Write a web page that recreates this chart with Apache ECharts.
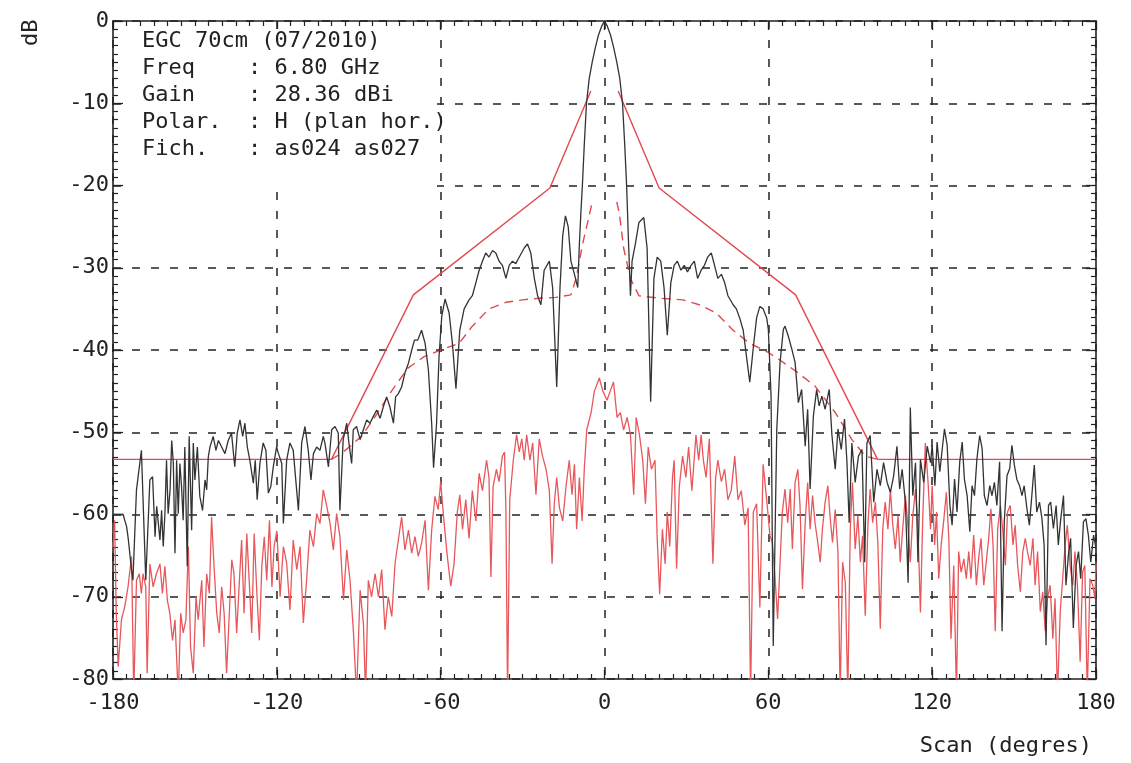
<!DOCTYPE html>
<html>
<head>
<meta charset="utf-8">
<script src="https://cdn.jsdelivr.net/npm/echarts@6/dist/echarts.min.js"></script>
<style>
html,body{margin:0;padding:0;background:#fff;}
#chart{width:1131px;height:763px;}
</style>
</head>
<body>
<div id="chart"></div>
<script>
// ---- data (angle in degrees, level in dB) ----
const xTicks = [-180, -120, -60, 0, 60, 120, 180];
const yTicks = [0, -10, -20, -30, -40, -50, -60, -70, -80];

const boxLines = [
  'EGC 70cm (07/2010)',
  'Freq    : 6.80 GHz',
  'Gain    : 28.36 dBi',
  'Polar.  : H (plan hor.)',
  'Fich.   : as024 as027'
];

// co-polar measured pattern (black)
const coPolar = [
[-180,-60],[-176.3,-60],[-175,-61.5],[-174.4,-63],[-173.3,-66.5],[-172.7,-68],[-171.4,-57],[-169.6,-52.2],[-168,-68],[-166.5,-55.8],[-165.5,-55.4],[-164.6,-62.7],[-164,-59],[-162.8,-63.1],[-162.2,-59.5],[-161.6,-63.9],[-161,-60],[-160.4,-53.4],[-159.8,-59.9],[-159.1,-57],[-158.5,-51],[-157.9,-53.8],[-157.3,-64.7],[-156.7,-53.4],[-156.1,-59.9],[-155.5,-53.8],[-154.9,-56.6],[-154.3,-60.7],[-153.7,-51.8],[-152.8,-66.3],[-152.1,-50.5],[-151.2,-61.9],[-150.6,-51.3],[-150,-55.8],[-149.1,-51.8],[-148.2,-57.8],[-147.2,-59.5],[-146.3,-55.8],[-145.7,-57],[-145.1,-53],[-144.5,-51.8],[-143.3,-50.5],[-142.3,-52.2],[-141.4,-51],[-140.2,-51.8],[-139,-52.6],[-137.8,-51],[-136.6,-50.1],[-135.4,-54.2],[-134.5,-50.1],[-133.5,-48.5],[-132.5,-50.5],[-131.7,-48.9],[-130.8,-51.8],[-129.9,-53.4],[-128.6,-56.2],[-127.9,-53.4],[-127.2,-58.2],[-126.2,-53.8],[-125,-51.3],[-124,-52.2],[-123.1,-57.4],[-122.2,-56.6],[-121.3,-54.2],[-120.1,-51.8],
[-119.4,-52.6],[-118.2,-53.8],[-117.6,-61.1],[-116.4,-53.4],[-115.2,-51.3],[-114,-52.2],[-112.1,-59.5],[-110.9,-51.3],[-109.7,-49.3],[-108.5,-52.2],[-107.5,-55.8],[-106.6,-52.6],[-105.4,-51.8],[-104.2,-52.2],[-103,-50.5],[-102.4,-51.3],[-101.1,-54.2],[-99.9,-49.7],[-98.7,-49.3],[-97.5,-50.1],[-96.9,-59.5],[-95.7,-50.9],[-94.4,-48.9],[-93.6,-51.3],[-92.6,-53.8],[-92,-49.7],[-90.8,-49.3],[-89.5,-50.9],[-88.3,-49.7],[-87.1,-48.5],[-85.9,-48.9],[-84.7,-48.1],[-83.4,-47.3],[-82.2,-48.3],[-81,-46.9],[-79.8,-45.7],[-78.6,-46.9],[-77.3,-48.9],[-76.5,-45.7],[-75.5,-45.3],[-74.3,-44.5],[-73.1,-42.8],[-71.8,-41.6],[-70.6,-40],[-69.6,-38.8],[-68.4,-38.8],[-67,-37.6],[-65.7,-39.2],[-64.5,-42.4],[-63.3,-48.9],[-62.6,-54.3],[-61.5,-48.9],[-60.6,-40.8],[-59.6,-35.9],[-58.4,-33.8],
[-56.9,-35.5],[-55.7,-39.2],[-54.4,-44.7],[-53,-37.6],[-51.4,-35],[-49.6,-33.9],[-48.4,-33.4],[-47.1,-31.8],[-45.9,-30.3],[-44.7,-29.2],[-43.5,-28.2],[-42.3,-28.7],[-41,-27.9],[-39.8,-28.2],[-38.6,-29.2],[-37.4,-29.7],[-36.1,-31.3],[-34.9,-29.7],[-33.7,-29.2],[-32.5,-29.5],[-31.2,-28.7],[-29.4,-27.6],[-28.2,-27.1],[-27,-28.2],[-25.7,-31.3],[-24.5,-33.4],[-23.3,-34.5],[-22.1,-30.3],[-20.2,-29.2],[-19,-32.4],[-17.5,-44.5],[-16.3,-32.4],[-15.3,-26.1],[-14.3,-23.7],[-13.3,-25],[-12.3,-29.2],[-11,-30.8],[-9.8,-32.4],
[-9.2,-27.1],[-8.6,-23],[-8.1,-20],[-7.4,-15],[-6.6,-10],[-5.6,-7],[-4.5,-5],[-3.4,-3.3],[-2.2,-1.7],[-1,-0.6],[0,0],[1,-0.6],[2.2,-1.7],[3.4,-3.3],[4.5,-5],[5.6,-7],[6.6,-10],[7.4,-15],[8.1,-20],[8.7,-26],
[9.5,-33.4],[10.1,-29.2],[11.3,-27.1],[12.6,-24.5],[14.4,-23.9],[15.6,-27.6],[16.9,-46.3],[18.1,-31.3],[19.3,-28.7],[20.6,-29.2],[21.8,-32.4],[23,-38.2],[24.3,-31.8],[25.5,-29.7],[26.7,-29.2],[28,-30.3],[29.2,-29.7],[30.4,-30.5],[31.7,-29.7],[32.9,-29.2],[34.1,-31.3],[35.4,-30.3],[36.6,-29.7],[37.8,-28.7],[39.1,-28.2],[40.3,-29.7],[41.5,-31.3],[42.8,-30.8],[44,-31.8],[45.2,-33.4],[47.1,-34.5],[48.3,-35],[49.5,-36.1],[50.8,-37.6],[52,-40.8],[53.2,-43.9],[54.5,-39.7],[55.7,-36.1],[56.9,-34.7],[58.1,-35],[59.4,-36.1],
[60,-37.5],[61,-45.6],[61.8,-76],[63.1,-49.6],[64.3,-41.5],[65.5,-37.5],[66.1,-37.1],[67.3,-38.3],[68.6,-39.9],[69.8,-41.5],[71,-46.4],[72.2,-44.8],[73.5,-51.7],[74.4,-47.2],[75.3,-56.9],[76.5,-48],[77.7,-44.8],[78.6,-46.8],[79.6,-45.6],[80.8,-47.2],[82.3,-44.8],[83.3,-50.4],[84.5,-54.5],[85.5,-49.6],[86.7,-52.1],[87.9,-48.4],[88.8,-53.7],[89.6,-61],[90.6,-51.3],[91.8,-56.1],[93,-52.9],[94.3,-52.1],[95.3,-65.8],[96.1,-51.3],[97.3,-50.4],[98.6,-58.5],[99.8,-54.5],[101,-56.5],[102.2,-53.7],[103.5,-56.1],[104.7,-57.3],[105.9,-55.3],[107.1,-51.7],[108.1,-56.9],[109,-54.5],[110.2,-58.5],[111.2,-68.3],[112,-47],[112.9,-57.7],[113.9,-53.7],[114.8,-65.8],[115.7,-53.3],[116.9,-56.1],[118.2,-51.7],[119.4,-53.7],
[120,-51.6],[121,-56.5],[121.8,-51.2],[122.8,-54.8],[123.7,-52],[124.5,-49.6],[125.5,-51.6],[126.5,-58.9],[127.3,-61.3],[128.2,-55.7],[129.1,-59.7],[130.1,-53.6],[131,-51.2],[131.8,-55.7],[132.8,-57.7],[133.8,-62.1],[134.6,-56.5],[135.5,-57.7],[136.4,-53.2],[137.4,-50.4],[138.3,-52],[139.1,-57.7],[140.1,-58.9],[141.1,-56.5],[141.9,-57.7],[142.8,-56.1],[143.7,-58.9],[144.7,-53.6],[145.6,-74.2],[146.4,-60.9],[147.4,-55.3],[148.4,-54.4],[149.2,-51.6],[150.1,-54],[151,-55.7],[152,-56.5],[152.9,-57.7],[153.7,-56.5],[154.7,-59.3],[155.6,-61.3],[156.5,-57.7],[157.4,-54],[158.3,-59.7],[159.3,-58.5],[160.2,-60.5],[161,-63.7],[161.7,-75.9],[162.6,-58.9],[163.4,-58.5],[164.4,-61.7],[165.4,-58.9],[166.2,-63.7],[167.1,-60.5],[168.1,-57.7],[169,-68.6],[169.9,-64.9],[170.7,-62.9],[171.7,-73.8],[172.7,-66.2],[173.6,-64.5],[174.4,-67.8],[175.4,-60.9],[176.3,-60.5],[177.2,-62.5],[178.1,-65.8],[179.1,-62.5],[180,-64.1]
];

// cross-polar measured pattern (light red)
const crossPolar = [
[-180,-64],[-179.4,-60.7],[-178.8,-72],[-178.1,-78.5],[-176.9,-72.8],[-175.7,-71.2],[-174.5,-68.8],[-173.2,-65.1],[-172.4,-82],[-171.4,-68],[-170.4,-67.2],[-169.6,-69.6],[-169,-67.2],[-168,-68.8],[-167.5,-79.3],[-166.5,-66],[-165.3,-68.8],[-164.1,-67.2],[-162.8,-66],[-161.9,-69.6],[-161,-66.3],[-160.1,-70.4],[-159.2,-72],[-158.2,-75.3],[-157.3,-72.8],[-156.1,-82],[-155.2,-72],[-154.3,-74.4],[-153.3,-72.8],[-152.4,-63.9],[-151.6,-76.1],[-150.6,-79.3],[-149.6,-70],[-148.8,-72.8],[-147.5,-68],[-146.7,-76.1],[-145.7,-67.2],[-144.7,-69.6],[-143.9,-60.3],[-143,-66.3],[-142,-72],[-141.1,-74.4],[-140.2,-68.8],[-139.3,-72],[-138.4,-79.3],[-137.4,-72],[-136.5,-65.5],[-135.7,-67.2],[-134.7,-74.4],[-133.7,-68],[-132.9,-63.1],[-132,-72],[-131,-62.3],[-130,-68.8],[-129.2,-74.4],[-128.3,-62.3],[-127.3,-69.6],[-126.4,-75.3],[-125.5,-66.3],[-124.6,-62.7],[-123.7,-68],[-122.7,-60.7],[-121.8,-68.8],[-121,-63.9],[-120,-62],
[-118.8,-70],[-117.6,-63.9],[-116.4,-65.9],[-115.2,-71.6],[-114,-63.1],[-112.7,-66.7],[-111.5,-63.9],[-110.3,-73.2],[-109.1,-68],[-107.9,-61.9],[-106.6,-63.9],[-105.4,-59.9],[-104.2,-61.1],[-103,-57],[-101.7,-59],[-100.5,-61.1],[-99.3,-64.3],[-98.1,-59.9],[-96.9,-62.7],[-95.6,-70.4],[-94.4,-64.3],[-93.2,-68],[-92,-74],[-90.8,-82],[-89.5,-69.2],[-88.3,-73.2],[-87.5,-82],[-86.5,-68],[-85.3,-70],[-84,-67.2],[-82.8,-70],[-81.6,-66.7],[-80.4,-74],[-79.2,-70],[-77.9,-72.4],[-76.7,-65.9],[-75.5,-63.1],[-74.3,-60.3],[-73.1,-64.3],[-71.8,-61.9],[-70.6,-64.7],[-69.4,-62.7],[-68.2,-65.1],[-67,-63.5],[-65.7,-60.7],[-64.5,-69.2],[-63.3,-61.9],[-62.1,-57.8],[-60.9,-59.4],
[-60,-56],[-58.8,-60.8],[-57.6,-65],[-56.3,-68.7],[-55.1,-66],[-53.9,-59.7],[-53,-57.6],[-52,-61.8],[-50.8,-58.2],[-49.6,-62.9],[-48.4,-57.1],[-47.1,-60.8],[-45.9,-55],[-44.7,-57.1],[-43.2,-53.4],[-42.3,-55.5],[-41.6,-67.6],[-40.8,-56.6],[-39.6,-54.5],[-38.6,-56],[-37.4,-52.9],[-36.6,-52.4],[-36.1,-59.7],[-35.5,-82],[-34.7,-58.2],[-33.4,-53.4],[-32.2,-50.3],[-31.2,-52.4],[-30.3,-50.8],[-29.4,-53.4],[-28.5,-50.3],[-27.3,-53.4],[-26.3,-51.3],[-25.1,-57.6],[-23.9,-50.8],[-22.7,-52.9],[-21.4,-54.5],[-20.2,-57.1],[-19.2,-66],[-18.4,-58.7],[-17.5,-55.5],[-16.5,-59.2],[-15.3,-60.8],[-14.1,-56.6],[-12.9,-53.4],[-11.9,-57.6],[-11,-53.9],[-10.2,-61.8],[-9.2,-55.5],[-8.2,-60.8],[-7.4,-54.5],[-6.5,-49.7],[-4.9,-47.6],[-3.7,-45],[-1.9,-43.4],[-0.6,-45],
[0.9,-46.1],[2.1,-45],[3.3,-43.9],[4.6,-48.2],[5.8,-47.6],[7,-49.7],[8.3,-48.2],[9.5,-50.3],[10.7,-57.6],[11.6,-48.2],[12.8,-50.3],[14,-53.4],[15,-58.7],[16,-51.8],[17.2,-54.5],[18.5,-53.4],[19.3,-62.9],[20.2,-69.7],[21.2,-61.8],[22.2,-66],[23,-59.7],[23.9,-63.9],[24.9,-55.5],[25.5,-53.4],[26.4,-66.6],[27.4,-56.6],[28.6,-52.9],[29.8,-55.5],[30.8,-51.8],[32,-57.1],[33.5,-50.3],[34.5,-53.4],[35.4,-50.3],[36.2,-53.4],[37.2,-55.5],[38.4,-50.8],[39.7,-66],[40.7,-55.5],[41.5,-53.4],[42.8,-56],[44,-54.5],[45.2,-58.2],[46.4,-57.1],[47.7,-52.9],[48.9,-58.2],[50.1,-57.1],[51.4,-61.3],[52.6,-59.2],[53.5,-82],[54.5,-59.7],[55.7,-58.7],[56.9,-71.3],[58.1,-53.9],[59.4,-58.2],
[60.6,-62.6],[61.5,-63.4],[62.4,-67.4],[63.4,-72.7],[64.3,-65.8],[65.1,-59.8],[66.1,-56.9],[67.1,-61],[68,-56.9],[68.8,-64.2],[69.8,-56.1],[70.8,-54.5],[71.6,-58.9],[72.5,-69.1],[73.5,-61],[74.4,-56.1],[75.3,-61.8],[76.2,-57.7],[77.1,-61],[78.1,-63.4],[79,-65.8],[79.8,-61.8],[80.8,-58.5],[81.8,-56.5],[82.6,-60.2],[83.5,-63.4],[84.5,-59.4],[85.5,-64.6],[86.3,-82],[87.2,-65.8],[88.2,-68.3],[89.1,-82],[90,-61.8],[90.8,-56.1],[91.8,-64.2],[92.8,-60.2],[93.7,-65.8],[94.5,-62.6],[95.5,-72.3],[96.5,-61],[97.3,-56.9],[98.2,-61],[99.2,-58.5],[100.1,-63.4],[101,-73.9],[101.9,-61.8],[102.8,-58.5],[103.8,-61.8],[104.7,-56.9],[105.5,-61],[106.5,-64.2],[107.5,-60.2],[108.3,-65.8],[109.2,-61.8],[110.2,-57.7],[111.2,-61.8],[112,-65.8],[112.9,-60.2],[113.9,-56.9],[114.8,-61.8],[115.7,-71.9],[116.5,-61],[117.5,-51.3],[118.5,-56.1],[119.4,-61.8],
[120,-56.5],[120.9,-63.7],[121.6,-59.7],[122.4,-67.8],[123.3,-63.7],[124.3,-60.5],[125.2,-57.3],[126.1,-62.9],[126.9,-75.1],[127.9,-66.2],[128.9,-82],[129.7,-64.5],[130.6,-67],[131.6,-65.4],[132.5,-67.8],[133.4,-64.5],[134.2,-67.8],[135.2,-62.5],[136.2,-68.6],[137,-65.4],[137.9,-62.9],[138.9,-68.6],[139.8,-65.8],[140.7,-62.9],[141.5,-59.3],[142.3,-63.7],[143.1,-74.2],[144,-61.7],[145,-58.9],[145.9,-62.1],[146.8,-66.2],[147.6,-59.7],[148.6,-58.9],[149.6,-63.7],[150.4,-61.3],[151.3,-66.2],[152.3,-69.4],[153.2,-64.5],[154.1,-62.9],[154.9,-64.5],[155.9,-66.2],[156.9,-62.9],[157.7,-68.6],[158.6,-64.5],[159.6,-71.8],[160.5,-69.4],[161.4,-74.2],[162.2,-70.2],[163.2,-68.6],[164.2,-75.1],[165,-70.2],[165.9,-82],[166.9,-71.8],[167.8,-67.8],[168.7,-63.7],[169.5,-61.3],[170.5,-66.2],[171.5,-68.6],[172.3,-64.5],[173.2,-68.6],[174.2,-77.9],[175.1,-67],[175.9,-66.2],[176.8,-82],[177.8,-67.8],[178.8,-68.6],[179.6,-70.2],[180,-66]
];

// template (mask), solid red
const maskLeft  = [[-180,-53.3],[-100,-53.3],[-70,-33.3],[-20,-20.3],[-5,-8.5]];
const maskRight = [[5,-8.5],[20,-20.3],[70,-33.3],[100,-53.3],[180,-53.3]];

// envelope, dashed red
const envLeft = [[-100,-53.3],[-96,-52.5],[-89,-50.5],[-84,-48.1],[-78,-45],[-72,-42.2],[-66,-40.8],[-60,-40],[-53.3,-39.2],[-48.4,-37.1],[-42.3,-35],[-36.1,-34.2],[-30,-33.9],[-23.9,-33.7],[-17.8,-33.6],[-12.3,-33.3],[-10.4,-31.3],[-8,-27.1],[-5.5,-23.5],[-4.5,-22]];
const envRight = [[4.5,-22],[5.5,-23.5],[7,-27.6],[9.5,-31.3],[12.6,-33.4],[20,-33.7],[28.6,-33.9],[34.7,-34.5],[40.9,-35.5],[47.1,-37.6],[53.2,-39.2],[60,-40.3],[63.7,-41.1],[71,-42.8],[77.1,-44.4],[84.5,-47.6],[90.6,-50.9],[95.5,-52.9],[100,-53.3]];

const FONT = 'DejaVu Sans Mono';
const INK = '#222';
const RED = '#e2484d';

const chart = echarts.init(document.getElementById('chart'), null, {renderer: 'canvas'});

function xAxisCfg(pos, main) {
  return {
    type: 'value', position: pos, min: xTicks[0], max: xTicks[xTicks.length-1], interval: 60,
    axisLine: {show: true, onZero: false, lineStyle: {color: INK, width: 1.6}},
    axisTick: {show: true, inside: true, length: 9, lineStyle: {color: INK, width: 1.3}},
    minorTick: {show: true, splitNumber: 12, length: 5, lineStyle: {color: INK, width: 1.2}},
    splitLine: {show: main, lineStyle: {color: INK, width: 1.5, type: [8, 11]}},
    minorSplitLine: {show: false},
    axisLabel: {show: main, margin: 13, color: INK, fontFamily: FONT, fontSize: 22},
    z: 3
  };
}
function yAxisCfg(pos, main) {
  return {
    type: 'value', position: pos, min: yTicks[yTicks.length-1], max: yTicks[0], interval: 10,
    axisLine: {show: true, onZero: false, lineStyle: {color: INK, width: 1.6}},
    axisTick: {show: true, inside: true, length: 10, lineStyle: {color: INK, width: 1.3}},
    minorTick: {show: true, splitNumber: 10, length: 5, lineStyle: {color: INK, width: 1.2}},
    splitLine: {show: main, lineStyle: {color: INK, width: 1.5, type: [8, 11]}},
    minorSplitLine: {show: false},
    axisLabel: {show: main, margin: 4, color: INK, fontFamily: FONT, fontSize: 22},
    z: 3
  };
}

const option = {
  animation: false,
  backgroundColor: '#fff',
  grid: {left: 113, right: 35, top: 21, bottom: 84, containLabel: false},
  xAxis: [xAxisCfg('bottom', true), xAxisCfg('top', false)],
  yAxis: [yAxisCfg('left', true), yAxisCfg('right', false)],
  series: [
    {type: 'line', data: crossPolar, showSymbol: false, lineStyle: {color: '#e8575b', width: 1.3}, z: 4},
    {type: 'line', data: envLeft, showSymbol: false, lineStyle: {color: RED, width: 1.4, type: [9, 6]}, z: 5},
    {type: 'line', data: envRight, showSymbol: false, lineStyle: {color: RED, width: 1.4, type: [9, 6]}, z: 5},
    {type: 'line', data: maskLeft, showSymbol: false, lineStyle: {color: RED, width: 1.4}, z: 5},
    {type: 'line', data: maskRight, showSymbol: false, lineStyle: {color: RED, width: 1.4}, z: 5},
    {type: 'line', data: coPolar, showSymbol: false, lineStyle: {color: '#333', width: 1.3}, z: 6}
  ],
  graphic: [
    {type: 'rect', z: 100, shape: {x: 128, y: 29, width: 309, height: 163}, style: {fill: '#fff'}},
    {type: 'text', z: 101, x: 142, y: 28, style: {text: boxLines.join('\n'), font: '22px "' + FONT + '"', lineHeight: 27, fill: INK}},
    {type: 'text', z: 101, x: 20, y: 46, rotation: Math.PI / 2, style: {text: 'dB', font: '22px "' + FONT + '"', fill: INK, textVerticalAlign: 'top'}},
    {type: 'text', z: 101, x: 1092, y: 735, style: {text: 'Scan (degres)', font: '22px "' + FONT + '"', fill: INK, textAlign: 'right'}}
  ]
};
chart.setOption(option);
</script>
</body>
</html>
